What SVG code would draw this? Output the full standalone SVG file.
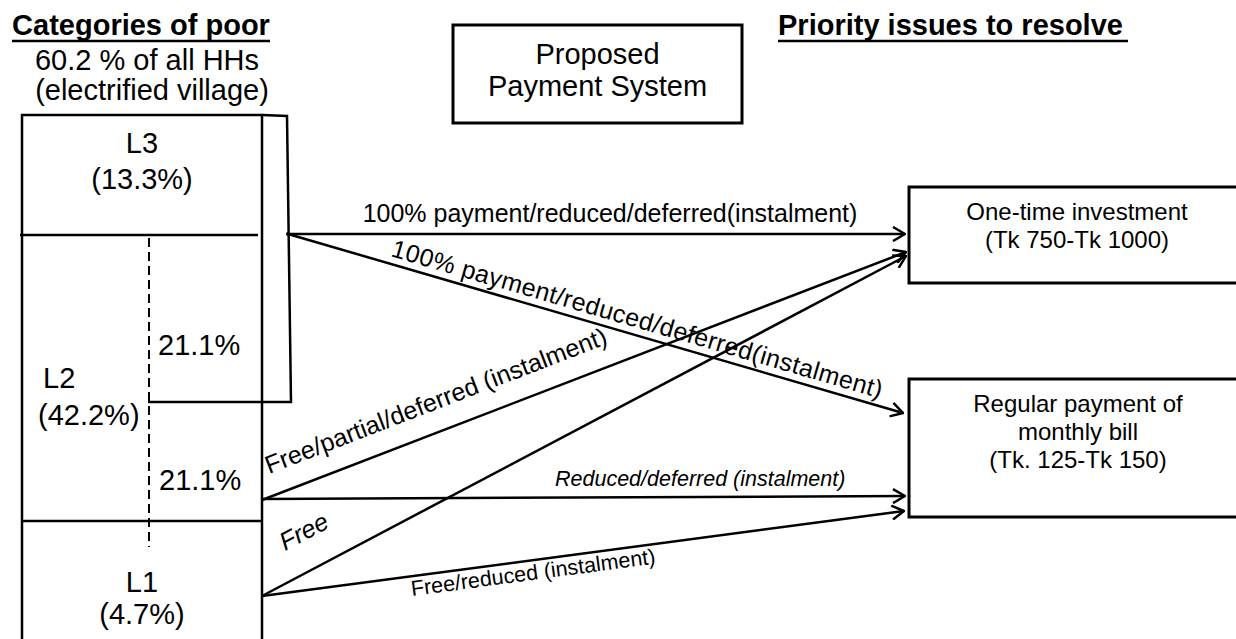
<svg xmlns="http://www.w3.org/2000/svg" width="1236" height="639" viewBox="0 0 1236 639">
<style>
text{font-family:"Liberation Sans",Arial,sans-serif;fill:#000}
.h{font-weight:bold;font-size:29px}
.b{font-size:29px}
.m{font-size:24px}
.lbl{font-size:25px}
.sm{font-size:21.5px}
.it{font-style:italic}
.ln{stroke:#000;stroke-width:2.5;fill:none}
.box{stroke:#000;stroke-width:3;fill:#fff}
.arr{stroke:#000;stroke-width:2.5;fill:none;marker-end:url(#ah)}
</style>
<defs>
<marker id="ah" viewBox="0 0 14 16" refX="13" refY="8" markerWidth="14" markerHeight="16" markerUnits="userSpaceOnUse" orient="auto">
<path d="M1,1 L13,8 L1,15" fill="none" stroke="#000" stroke-width="2.5"/>
</marker>
</defs>
<rect width="1236" height="639" fill="#fff"/>
<g id="heading-left">
<text class="h" x="141" y="35" text-anchor="middle">Categories of poor</text>
<line class="ln" x1="12" y1="41" x2="270" y2="41"/>
<text class="b" x="147" y="70" text-anchor="middle">60.2 % of all HHs</text>
<text class="b" x="152" y="100" text-anchor="middle">(electrified village)</text>
</g>
<g id="heading-right">
<text class="h" x="778" y="35">Priority issues to resolve</text>
<line class="ln" x1="778" y1="41" x2="1128" y2="41"/>
</g>
<g id="proposed">
<rect class="box" x="453" y="25" width="289" height="98"/>
<text class="b" x="597.5" y="64" text-anchor="middle">Proposed</text>
<text class="b" x="597.5" y="96" text-anchor="middle">Payment System</text>
</g>
<g id="categories">
<path class="ln" d="M22,645 V115 H262 V645"/>
<line class="ln" x1="20" y1="235" x2="258" y2="235"/>
<line class="ln" x1="22" y1="521" x2="262" y2="521"/>
<line x1="149" y1="238" x2="149" y2="547" stroke="#000" stroke-width="2" stroke-dasharray="9,5"/>
<path class="ln" d="M262,115 L287,116 L291,402 H148"/>
</g>
<g id="L3">
<text class="b" x="142" y="153" text-anchor="middle">L3</text>
<text class="b" x="142" y="189" text-anchor="middle">(13.3%)</text>
</g>
<g id="L2">
<text class="b" x="158" y="355">21.1%</text>
<text class="b" x="43" y="388">L2</text>
<text class="b" x="38" y="425">(42.2%)</text>
<text class="b" x="159" y="490">21.1%</text>
</g>
<g id="L1">
<text class="b" x="142" y="592" text-anchor="middle">L1</text>
<text class="b" x="142" y="624" text-anchor="middle">(4.7%)</text>
</g>
<g id="one-time">
<rect class="box" x="909" y="187" width="340" height="96"/>
<text class="m" x="1077" y="220" text-anchor="middle">One-time investment</text>
<text class="m" x="1077" y="248" text-anchor="middle">(Tk 750-Tk 1000)</text>
</g>
<g id="regular">
<rect class="box" x="909" y="379" width="340" height="138"/>
<text class="m" x="1078" y="412" text-anchor="middle">Regular payment of</text>
<text class="m" x="1078" y="440" text-anchor="middle">monthly bill</text>
<text class="m" x="1078" y="468" text-anchor="middle">(Tk. 125-Tk 150)</text>
</g>
<g id="connectors">
<circle cx="288" cy="234" r="2" fill="#000"/>
<line class="arr" x1="288" y1="234" x2="905" y2="234"/>
<line class="arr" x1="288" y1="234" x2="903" y2="413"/>
<line class="arr" x1="262" y1="500" x2="906" y2="252"/>
<line class="arr" x1="262" y1="596" x2="906" y2="256"/>
<line class="arr" x1="262" y1="499" x2="905" y2="496"/>
<line class="arr" x1="262" y1="596" x2="904" y2="511"/>
<text class="lbl" x="610" y="222" text-anchor="middle">100% payment/reduced/deferred(instalment)</text>
<text class="lbl" transform="translate(390,256) rotate(16.2)" textLength="510" lengthAdjust="spacing">100% payment/reduced/deferred(instalment)</text>
<text class="lbl" transform="translate(269,474) rotate(-21.06)">Free/partial/deferred (instalment)</text>
<text class="lbl it" transform="translate(285,551) rotate(-27.8)">Free</text>
<text class="sm it" x="555" y="486">Reduced/deferred (instalment)</text>
<text class="sm" transform="translate(412,596) rotate(-7.6)">Free/reduced (instalment)</text>
</g>
</svg>
